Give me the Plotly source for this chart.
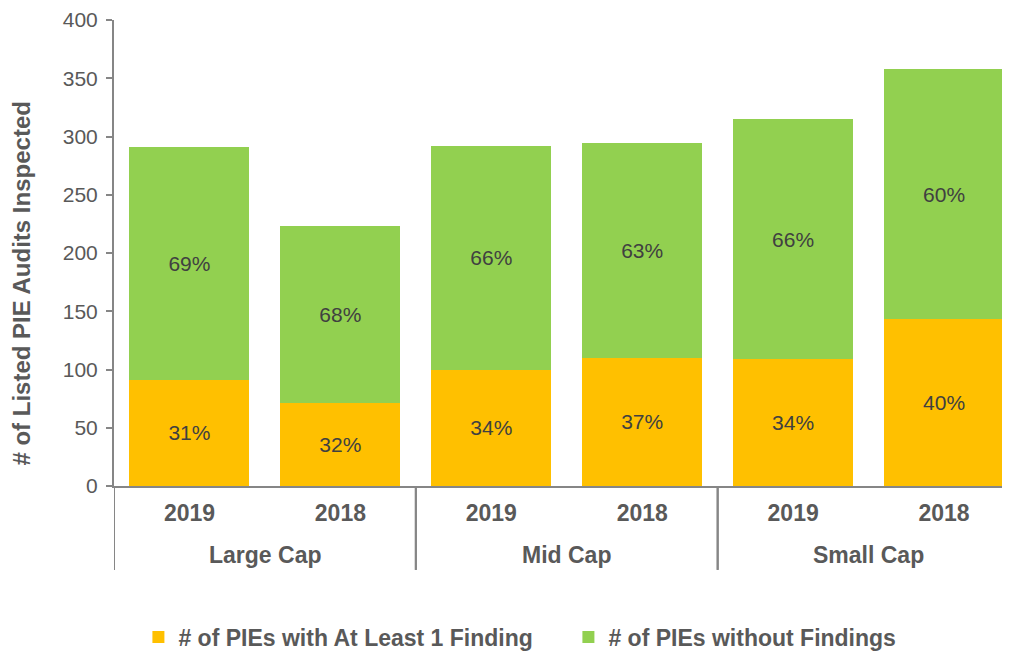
import plotly.graph_objects as go

groups = ["Large Cap", "Large Cap", "Mid Cap", "Mid Cap", "Small Cap", "Small Cap"]
years = ["2019", "2018", "2019", "2018", "2019", "2018"]

with_finding = [91, 71, 100, 110, 109, 143]
without_finding = [200, 152, 192, 184, 206, 215]
pct_with = ["31%", "32%", "34%", "37%", "34%", "40%"]
pct_without = ["69%", "68%", "66%", "63%", "66%", "60%"]

FONT = "Arial, Liberation Sans, sans-serif"
GREY = "#595959"
AXIS = "#868686"
X_RANGE = [-0.5, 5.49]

pos = list(range(len(years)))
unique_groups = list(dict.fromkeys(groups))

fig = go.Figure()
fig.add_trace(
    go.Bar(
        x=pos,
        y=with_finding,
        name="# of PIEs with At Least 1 Finding",
        marker=dict(color="#FFC000", line=dict(width=0)),
        text=pct_with,
        textposition="inside",
        insidetextanchor="middle",
        textfont=dict(family=FONT, size=21, color="#404040"),
    )
)
fig.add_trace(
    go.Bar(
        x=pos,
        y=without_finding,
        name="# of PIEs without Findings",
        marker=dict(color="#92D050", line=dict(width=0)),
        text=pct_without,
        textposition="inside",
        insidetextanchor="middle",
        textfont=dict(family=FONT, size=21, color="#404040"),
    )
)

fig.update_layout(
    barmode="stack",
    bargap=0.205,
    width=1010,
    height=651,
    margin=dict(l=106, r=0, t=12, b=173),
    paper_bgcolor="white",
    plot_bgcolor="white",
    font=dict(family=FONT, color=GREY),
    showlegend=True,
    legend=dict(
        orientation="h",
        traceorder="normal",
        x=0.027,
        xanchor="left",
        y=-0.324,
        yanchor="middle",
        entrywidth=385,
        entrywidthmode="pixels",
        font=dict(family=FONT, size=23, color=GREY, weight="bold"),
    ),
    uniformtext=dict(mode="show", minsize=21),
)

# group names + divider lines under the x axis
for name in unique_groups:
    idx = [i for i, g in enumerate(groups) if g == name]
    fig.add_annotation(
        text=name,
        xref="x",
        yref="paper",
        x=sum(idx) / len(idx),
        y=-0.148,
        xanchor="center",
        yanchor="middle",
        showarrow=False,
        font=dict(family=FONT, size=23, color=GREY, weight="bold"),
    )
    for edge in (min(idx) - 0.5, max(idx) + 0.5):
        fig.add_shape(
            type="line",
            xref="x",
            yref="paper",
            x0=edge,
            x1=edge,
            y0=0,
            y1=-0.18,
            line=dict(color=AXIS, width=2),
        )

# y title as an annotation: in the original it sits lower than the plot centre
fig.add_annotation(
    text="# of Listed PIE Audits Inspected",
    textangle=-90,
    xref="paper",
    yref="paper",
    x=-0.102,
    y=0.436,
    xanchor="center",
    yanchor="middle",
    showarrow=False,
    font=dict(family=FONT, size=24, color=GREY, weight="bold"),
)

fig.update_xaxes(
    range=X_RANGE,
    tickvals=pos,
    ticktext=years,
    showline=True,
    linecolor=AXIS,
    linewidth=2,
    tickfont=dict(family=FONT, size=23, color=GREY, weight="bold"),
    ticks="",
    ticklabelstandoff=5,
    showgrid=False,
    zeroline=False,
    automargin=False,
)
fig.update_yaxes(
    range=[0, 400],
    dtick=50,
    showline=True,
    linecolor=AXIS,
    linewidth=2,
    ticks="outside",
    ticklen=6,
    tickcolor=AXIS,
    tickwidth=2,
    ticklabelstandoff=4,
    showgrid=False,
    zeroline=False,
    tickfont=dict(family=FONT, size=21, color=GREY),
    automargin=False,
)

fig.write_html("out.html")
